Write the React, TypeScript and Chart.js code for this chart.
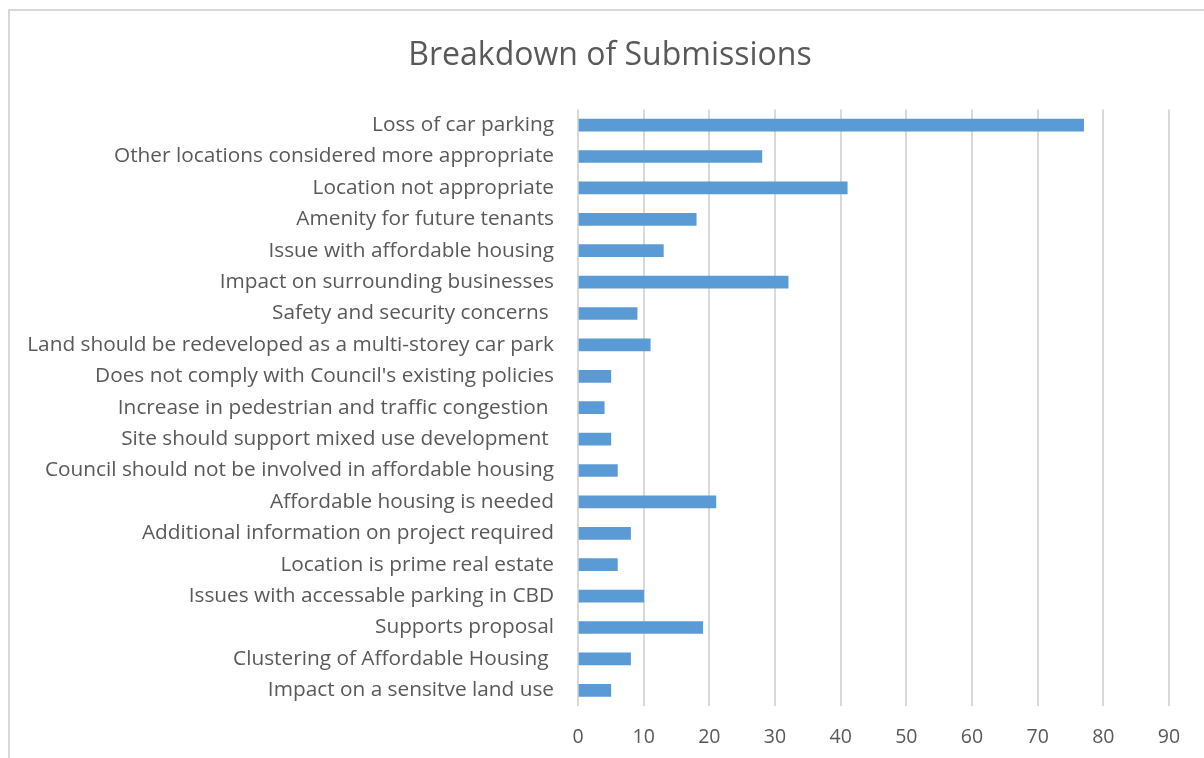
import React, { useEffect, useRef } from "react";
import { Chart, registerables } from "chart.js";

Chart.register(...registerables);

const categories = [
  "Loss of car parking",
  "Other locations considered more appropriate",
  "Location not appropriate",
  "Amenity for future tenants",
  "Issue with affordable housing",
  "Impact on surrounding businesses",
  "Safety and security concerns ",
  "Land should be redeveloped as a multi-storey car park",
  "Does not comply with Council's existing policies",
  "Increase in pedestrian and traffic congestion ",
  "Site should support mixed use development ",
  "Council should not be involved in affordable housing",
  "Affordable housing is needed",
  "Additional information on project required",
  "Location is prime real estate",
  "Issues with accessable parking in CBD",
  "Supports proposal",
  "Clustering of Affordable Housing ",
  "Impact on a sensitve land use",
];

const submissions = [77, 28, 41, 18, 13, 32, 9, 11, 5, 4, 5, 6, 21, 8, 6, 10, 19, 8, 5];

const xTicks = [0, 10, 20, 30, 40, 50, 60, 70, 80, 90];

const FONT = "'Open Sans', sans-serif";

export default function App() {
  const ref = useRef<HTMLCanvasElement | null>(null);

  useEffect(() => {
    document.documentElement.style.overflow = "hidden";
    const canvas = ref.current;
    if (!canvas) return;
    const chart = new Chart(canvas, {
      type: "bar",
      data: {
        labels: categories,
        datasets: [
          {
            label: "Submissions",
            data: submissions,
            backgroundColor: "#5B9BD5",
            borderWidth: 0,
            barThickness: 12,
          },
        ],
      },
      options: {
        indexAxis: "y",
        animation: false,
        responsive: false,
        maintainAspectRatio: false,
        layout: { padding: { left: 16, right: 0, top: 0, bottom: 0 } },
        plugins: {
          legend: { display: false },
          tooltip: { enabled: false },
          title: {
            display: true,
            text: "Breakdown of Submissions",
            color: "#595959",
            font: { family: FONT, size: 32, weight: "normal" },
            padding: { top: 37, bottom: 34 },
          },
        },
        scales: {
          x: {
            min: 0,
            max: 90,
            afterBuildTicks: (scale: any) => {
              scale.ticks = xTicks.map((v) => ({ value: v }));
            },
            afterFit: (scale: any) => {
              scale.height = 52;
            },
            grid: { color: "#d9d9d9", lineWidth: 2, drawTicks: false },
            border: { display: false },
            ticks: {
              color: "#595959",
              font: { family: FONT, size: 19.5 },
              padding: 20,
            },
          },
          y: {
            afterFit: (scale: any) => {
              scale.width = 578 - 16;
            },
            grid: { display: false, drawTicks: false },
            border: { display: false },
            ticks: {
              color: "#595959",
              font: { family: FONT, size: 20.8 },
              padding: 24,
              autoSkip: false,
            },
          },
          yRightSpace: {
            type: "category",
            position: "right",
            labels: categories,
            afterFit: (scale: any) => {
              scale.width = 1204 - 1169;
            },
            grid: { display: false, drawTicks: false },
            border: { display: false },
            ticks: { display: false },
          },
        },
      },
    });
    return () => chart.destroy();
  }, []);

  return (
    <>
      <div
        style={{
          position: "fixed",
          left: 8,
          top: 9,
          width: 1300,
          height: 900,
          borderTop: "2px solid #d9d9d9",
          borderLeft: "2px solid #d9d9d9",
          background: "#fff",
        }}
      />
      <canvas
        ref={ref}
        width={1204}
        height={758}
        style={{ position: "fixed", left: 0, top: 0, width: 1204, height: 758 }}
      />
    </>
  );
}
